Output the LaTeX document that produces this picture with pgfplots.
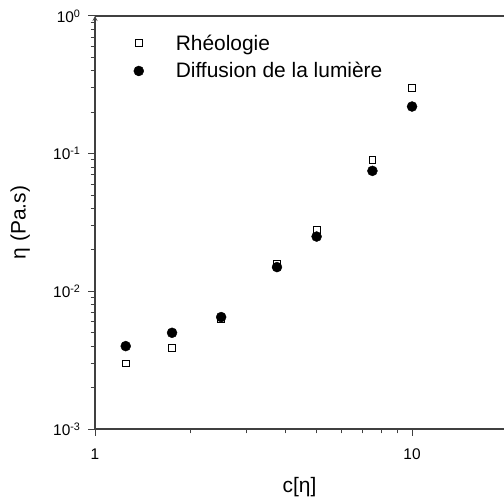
\documentclass[border=0pt]{standalone}
\usepackage{fontspec}
\setmainfont{Liberation Sans}
\usepackage{pgfplots}
\pgfplotsset{compat=1.18}
\begin{document}
\begin{tikzpicture}
\begin{axis}[
  scale only axis,
  width=409bp, height=413bp,
  xmode=log, ymode=log,
  xmin=1, xmax=19.5,
  ymin=1e-3, ymax=1,
  axis x line=box, axis y line=left,
  xtick pos=bottom, ytick pos=left,
  tick align=outside,
  major tick length=7bp, minor tick length=4.5bp,
  axis line style={line width=1.2pt, color=black!75},
  every tick/.style={line width=1pt, color=black!75},
  xtick={1,10}, xticklabels={1,10},
  minor xtick={2,3,4,5,6,7,8,9,20},
  ytick={1e-3,1e-2,1e-1,1},
  minor ytick={2e-3,3e-3,4e-3,5e-3,6e-3,7e-3,8e-3,9e-3,2e-2,3e-2,4e-2,5e-2,6e-2,7e-2,8e-2,9e-2,2e-1,3e-1,4e-1,5e-1,6e-1,7e-1,8e-1,9e-1},
  yticklabels={10\textsuperscript{-3},10\textsuperscript{-2},10\textsuperscript{-1},10\textsuperscript{0}},
  tick label style={font=\fontsize{15.5}{18}\selectfont},
  xticklabel style={yshift=-9bp},
  yticklabel style={xshift=-4bp},
  xlabel={c[η]}, ylabel={η (Pa.s)},
  label style={font=\fontsize{21}{25}\selectfont},
  xlabel style={at={(axis description cs:0.5,-0.14)}, anchor=center},
  ylabel style={at={(axis description cs:-0.183,0.5)}, anchor=center},
  legend style={draw=none, fill=none, at={(axis description cs:0.087,0.965)}, anchor=north west,
    font=\fontsize{21}{25}\selectfont, row sep=7bp,
    /tikz/every odd column/.append style={column sep=30bp}},
  legend cell align=left,
]
\addplot[only marks, mark=square, mark size=3.3bp, mark options={line width=0.8pt, fill=white}, black]
  coordinates {(1.25,0.0030) (1.75,0.0039) (2.5,0.0063) (3.75,0.016) (5,0.028) (7.5,0.09) (10,0.30)};
\addlegendentry{Rhéologie}
\addplot[only marks, mark=*, mark size=5bp, black]
  coordinates {(1.25,0.0040) (1.75,0.0050) (2.5,0.0065) (3.75,0.015) (5,0.025) (7.5,0.075) (10,0.22)};
\addlegendentry{Diffusion de la lumière}
\end{axis}
\pgfresetboundingbox
\path[use as bounding box] (-95bp,-73bp) rectangle (409bp,429bp);
\end{tikzpicture}
\end{document}
